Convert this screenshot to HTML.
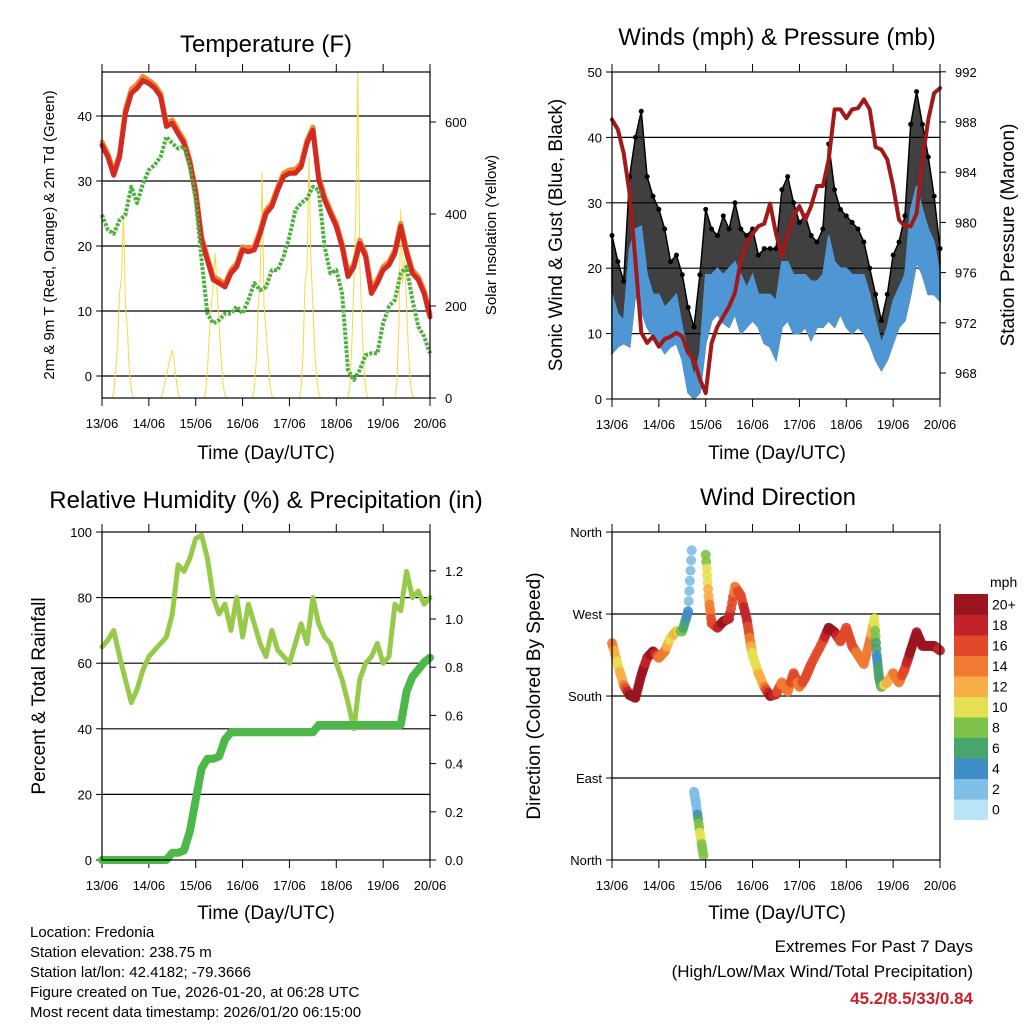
<!DOCTYPE html>
<html><head><meta charset="utf-8">
<style>
html,body{margin:0;padding:0;background:#fff;}
svg{display:block;font-family:"Liberation Sans",Arial,sans-serif;}
</style></head>
<body>
<svg id="s" width="1024" height="1024" viewBox="0 0 1024 1024"></svg>
<script>
// ---------- data (3-hourly, day offsets 0..7 from 13/06) ----------
const dayLabels = ["13/06","14/06","15/06","16/06","17/06","18/06","19/06","20/06"];
const temp2m = [35.5,33.7,30.9,33.7,40.4,43.5,44.3,45.5,45,44.3,43,38.4,38.9,37.3,35.8,32.7,28.1,20.9,17.8,14.8,14.3,13.7,15.8,16.8,19.4,19.1,19.4,21.9,25,26.1,28.6,30.7,31.2,31.2,32.2,35.8,37.8,30.2,27.1,25,23,19.9,15.3,16.8,20.4,18.4,12.7,14.3,16.3,17.1,18.9,23,18.9,15.8,14.8,12.7,9.1];
const temp9m = [36,34.2,31.4,34.2,41,44.1,44.9,46.1,45.5,44.8,43.5,38.9,39.4,37.8,36.3,33.2,28.6,21.4,18.3,15.3,14.8,14.2,16.3,17.3,19.9,19.6,19.9,22.4,25.5,26.6,29.1,31.2,31.7,31.8,32.7,36.3,38.3,30.7,27.6,25.5,23.5,20.4,15.8,17.3,20.9,18.9,13.5,14.8,16.8,17.6,19.4,23.5,19.4,16.3,15.3,13.2,9.6];
const dewpt = [24.8,22.5,21.9,24,24.8,29.1,26.6,29.6,31.7,32.5,33.7,36.8,35.8,35,35.3,32.2,27.1,17.8,9.6,8.1,8.6,9.6,9.6,10.7,9.6,11.7,14.3,13.2,13.7,16.3,16.3,18.4,21.4,25.5,26.6,27.3,29.1,28.6,19.9,15.8,16.3,12.7,0.9,-0.6,0.9,3.2,3.5,3.5,8.1,10.7,11.7,15.8,16.8,11.7,7.6,6.1,3.5];
// hourly solar insolation (W/m2), hour 0 = 13/06 06 UTC
const solar = [0,0,0,0,0,0,10,60,120,230,260,402,200,150,60,20,0,0,0,0,0,0,0,0,
0,0,0,0,0,0,0,10,30,50,70,90,104,80,40,10,0,0,0,0,0,0,0,0,
0,0,0,0,0,10,60,140,200,250,315,230,160,90,30,5,0,0,0,0,0,0,0,0,
0,0,0,0,0,0,20,80,200,250,491,200,150,90,30,5,0,0,0,0,0,0,0,0,
0,0,0,0,0,0,20,100,250,280,524,300,200,100,40,10,0,0,0,0,0,0,0,0,
0,0,0,0,0,0,0,30,120,250,400,709,300,180,80,20,0,0,0,0,0,0,0,0,
0,0,0,0,0,0,0,30,150,409,250,300,200,100,30,5,0,0,0,0,0,0,0,0,0];
const windLo = [7,8,8.5,8,16,13.6,11,9.5,8.5,7,8,8.5,6,1,0,1,8.5,12,13,11.6,11,13,10,11,12,11,8.5,8,6,11,12,10,10,11,9,11,11,12,11,13,11,10,11,10,8.5,6,4.4,6,8.5,11,12,16,21,19,16,16,15];
const windHi = [16,13,12,23,26,26.4,19,16,16,14,15,16,11,7,3.4,7,19,19,20,19,20,21,19,17,19,16,16,16,15,21,21,19,19,19,18,18,19,25,21,20,20,19,19,19,16,12,8.5,11,15,17,19,29,32.6,29,26,24,19];
const gust = [25,21,18,34,40,44,34,31,29,26,21,22,19,14,11,19,29,26,25,28,26,30,26,25,26,22,23,23,23,32,34,30,27,28,25,24,26,39,32,29,28,27,26,24,20,16,12,16,22,24,28,42,47,42,37,31,23];
const pressure = [988.2,987.4,985.5,982.3,977,971.2,970.4,970.9,970.1,970.7,970.9,971.2,970.9,969.6,969.1,967.5,966.4,970.4,971.7,972.5,973.3,974.4,977,978.3,979.1,979.7,979.9,981.5,979.1,977.3,979.1,980.5,981.3,980.2,981.3,982.9,982.9,985,989,989,988.3,989,989.1,989.8,989,986,985.8,985,982.9,980.2,979.7,979.7,980.7,985,988.2,990.3,990.7];
const rh = [65,67,70,62,55,48,52,58,62,64,66,68,75,90,88,92,98,99,92,80,75,78,70,80,68,78,72,66,62,70,64,62,60,66,72,66,80,72,68,66,60,55,48,40,55,60,62,66,60,62,78,76,88,80,82,78,80];
const precip = [0,0,0,0,0,0,0,0,0,0,0,0,0.03,0.03,0.04,0.12,0.25,0.38,0.42,0.42,0.43,0.50,0.53,0.53,0.53,0.53,0.53,0.53,0.53,0.53,0.53,0.53,0.53,0.53,0.53,0.53,0.53,0.56,0.56,0.56,0.56,0.56,0.56,0.56,0.56,0.56,0.56,0.56,0.56,0.56,0.56,0.56,0.7,0.76,0.79,0.82,0.84];
const dirTime = [0,0.125,0.25,0.375,0.5,0.625,0.75,0.875,1,1.125,1.25,1.375,1.5,1.625,1.7,1.75,1.8,1.875,1.95,2,2.06,2.125,2.25,2.375,2.5,2.625,2.75,2.875,2.95,3,3.125,3.25,3.375,3.5,3.625,3.75,3.875,4,4.125,4.25,4.5,4.625,4.75,4.875,5,5.125,5.25,5.375,5.5,5.6,5.65,5.7,5.75,5.875,6,6.125,6.25,6.375,6.5,6.625,6.75,6.875,7];
const dirDeg = [238,214,192,181,178,203,222,229,222,229,244,251,251,273,340,75,60,30,5,335,290,260,255,262,265,300,290,265,240,225,205,190,180,182,195,185,205,190,200,215,240,255,250,240,255,235,225,215,240,265,225,200,190,195,205,195,210,230,250,235,235,235,230];
const dirSpd = [14,10,13,20,20,20,18,20,14,14,10,12,7,3,2,2,1,10,7,8,12,16,17,20,18,14,16,18,14,10,11,13,20,17,14,14,16,14,16,16,16,20,20,16,16,16,14,14,14,10,4,6,6,12,13,14,16,20,20,20,20,20,18];
const spdLabels = ["0","2","4","6","8","10","12","14","16","18","20+"];
const spdColors = ["#b9e3f7","#7fbee6","#3f8dc6","#49a46d","#7dc249","#e4e052","#f8ae46","#f07a31","#e04a2a","#c2232a","#9a1520"];
const leftTicks1=[0,10,20,30,40], solarTicks=[0,200,400,600];
const windTicks=[0,10,20,30,40,50], presTicks=[968,972,976,980,984,988,992];
const rhTicks=[0,20,40,60,80,100], rainTicks=[0,0.2,0.4,0.6,0.8,1.0,1.2];
const dirTicks=[0,90,180,270,360], dirNames=["North","East","South","West","North"];

// ---------- helpers ----------
const NS="http://www.w3.org/2000/svg", svg=document.getElementById('s');
function mk(tag,attrs,parent,text){const e=document.createElementNS(NS,tag);for(const k in attrs)e.setAttribute(k,attrs[k]);if(text!==undefined)e.textContent=text;(parent||svg).appendChild(e);return e;}
const DAYW=328/7;
const t3 = i => i*0.125;

function panel(name,x0,y0,y1,yl,ylTicks,ylFmt,yr,yrTicks,yrFmt){
  const g=mk('g',{});
  
  
  const x1=x0+328;
  ylTicks.forEach(v=>{const y=yl(v);if(y>y0+1&&y<y1-1){const l=mk('line',{x1:x0,x2:x1,y1:y,y2:y,stroke:'#000','stroke-width':1.2},g);}});
  ylTicks.forEach((v,i)=>{const y=yl(v);mk('line',{x1:x0-6,x2:x0,y1:y,y2:y,stroke:'#000'},g);
    const t=mk('text',{x:x0-10,y:y+5,'text-anchor':'end','font-size':13},g,ylFmt(v,i));});
  if(yr){yrTicks.forEach((v,i)=>{const y=yr(v);mk('line',{x1:x1,x2:x1+6,y1:y,y2:y,stroke:'#000'},g);
    const t=mk('text',{x:x1+15,y:y+5,'text-anchor':'start','font-size':13},g,yrFmt(v));});}
  dayLabels.forEach((lab,i)=>{const x=x0+i*DAYW;mk('line',{x1:x,x2:x,y1:y0-8,y2:y0,stroke:'#000'},g);mk('line',{x1:x,x2:x,y1:y1,y2:y1+8,stroke:'#000'},g);
    const t=mk('text',{x:x,y:y1+30,'text-anchor':'middle','font-size':13},g,lab);});
  return g;
}
function frame(g,x0,y0,y1){const r=mk('rect',{x:x0,y:y0,width:328,height:y1-y0,fill:'none',stroke:'#000','stroke-width':1.2},g);}
function line(g,name,xs,ys,color,w,dash){const d=xs.map((x,i)=>(i?'L':'M')+x.toFixed(1)+','+ys[i].toFixed(1)).join('');
  const p=mk('path',{d:d,fill:'none',stroke:color,'stroke-width':w,'stroke-linejoin':'round','stroke-linecap':dash?'butt':'round'},g);if(dash)p.setAttribute('stroke-dasharray',dash);
  return p;}
function band(g,name,xs,lo,hi,color,op){let d='M'+xs.map((x,i)=>x.toFixed(1)+','+hi[i].toFixed(1)).join('L');
  for(let i=xs.length-1;i>=0;i--)d+='L'+xs[i].toFixed(1)+','+lo[i].toFixed(1);d+='Z';
  const p=mk('path',{d:d,fill:color,'fill-opacity':op||1,stroke:color,'stroke-width':1.5},g);return p;}
function label(txt,x,y,size,rot,name,anchor,extra){const a={x:x,y:y,'font-size':size,'text-anchor':anchor||'middle'};if(rot)a.transform=`rotate(-90 ${x} ${y})`;
  if(extra)Object.assign(a,extra);const t=mk('text',a,svg,txt);return t;}

// ---------- Panel 1: Temperature ----------
{const x0=102,y0=72,y1=398;
 const yT=v=>376-6.5*v, yS=v=>398-v*0.46, X=d=>x0+d*DAYW;
 const g=panel('temperature-panel',x0,y0,y1,yT,leftTicks1,v=>String(v),yS,solarTicks,v=>String(v));
 line(g,'solar-insolation-line',solar.map((v,i)=>X(i/24)),solar.map(yS),'#f7d944',1);
 line(g,'temp-9m-line',temp9m.map((v,i)=>X(t3(i))),temp9m.map(yT),'#f08a30',5);
 line(g,'temp-2m-line',temp2m.map((v,i)=>X(t3(i))),temp2m.map(yT),'#d42a24',5);
 line(g,'dewpoint-line',dewpt.map((v,i)=>X(t3(i))),dewpt.map(yT),'#4db040',4,'3 1.5');
 frame(g,x0,y0,y1);}
label('Temperature (F)',266,52,24,0,'temperature-title');
label('2m & 9m T (Red, Orange) & 2m Td (Green)',54,235,15,1,'temperature-y-axis-title');
label('Solar Insolation (Yellow)',496,235,15,1,'solar-y-axis-title');
label('Time (Day/UTC)',266,459,19,0,'temperature-x-axis-title');

// ---------- Panel 2: Winds & Pressure ----------
{const x0=612,y0=72,y1=399;
 const yW=v=>399-6.54*v, yP=p=>373-(p-968)*12.55, X=d=>x0+d*DAYW;
 const g=panel('wind-panel',x0,y0,y1,yW,windTicks,v=>String(v),yP,presTicks,v=>String(v));
 const xs=gust.map((v,i)=>X(t3(i)));
 band(g,'gust-band',xs,windLo.map(yW),gust.map(yW),'#000',0.75);
 gust.forEach((v,i)=>{const c=mk('circle',{cx:xs[i],cy:yW(v),r:2.5,fill:'#000'},g);});
 band(g,'sonic-wind-band',xs,windLo.map(yW),windHi.map(yW),'#4e97d4',1);
 line(g,'pressure-line',pressure.map((v,i)=>X(t3(i))),pressure.map(yP),'#a11a1a',4);
 frame(g,x0,y0,y1);}
label('Winds (mph) & Pressure (mb)',777,45,24,0,'wind-title');
label('Sonic Wind & Gust (Blue, Black)',562,235,19,1,'wind-y-axis-title');
label('Station Pressure (Maroon)',1014,235,19,1,'pressure-y-axis-title');
label('Time (Day/UTC)',777,459,19,0,'wind-x-axis-title');

// ---------- Panel 3: RH & Precip ----------
{const x0=102,y0=532,y1=860;
 const yR=v=>860-3.28*v, yQ=v=>860-241*v, X=d=>x0+d*DAYW;
 const g=panel('humidity-panel',x0,y0,y1,yR,rhTicks,v=>String(v),yQ,rainTicks,v=>v.toFixed(1));
 line(g,'relative-humidity-line',rh.map((v,i)=>X(t3(i))),rh.map(yR),'#97ca4b',5);
 line(g,'precipitation-line',precip.map((v,i)=>X(t3(i))),precip.map(yQ),'#4cb847',8);
 frame(g,x0,y0,y1);}
label('Relative Humidity (%) & Precipitation (in)',266,508,24,0,'humidity-title');
label('Percent & Total Rainfall',45,696,19,1,'humidity-y-axis-title');
label('Time (Day/UTC)',266,919,19,0,'humidity-x-axis-title');

// ---------- Panel 4: Wind direction ----------
{const x0=612,y0=532,y1=860;
 const yD=v=>860-v*0.911, X=d=>x0+d*DAYW;
 const g=panel('wind-direction-panel',x0,y0,y1,yD,dirTicks,(v,i)=>dirNames[i],null,null,null);
 const col=s=>spdColors[Math.max(0,Math.min(10,Math.round(s/2)))];
 for(let i=0;i<dirTime.length;i++){
   const n=(i<dirTime.length-1 && Math.abs(dirDeg[i+1]-dirDeg[i])<180)?6:1;
   for(let k=0;k<n;k++){const f=k/n;
     const t=dirTime[i]+(i<dirTime.length-1?(dirTime[i+1]-dirTime[i])*f:0);
     const dg=dirDeg[i]+(n>1?(dirDeg[i+1]-dirDeg[i])*f:0);
     const sp=dirSpd[i]+(n>1?(dirSpd[i+1]-dirSpd[i])*f:0);
     const c=mk('circle',{cx:X(t).toFixed(1),cy:yD(dg).toFixed(1),r:5,fill:col(sp),'fill-opacity':0.9},g);
     
     }}
 frame(g,x0,y0,y1);}
label('Wind Direction',778,505,24,0,'wind-direction-title');
label('Direction (Colored By Speed)',540,696,19,1,'wind-direction-y-axis-title');
label('Time (Day/UTC)',777,919,19,0,'wind-direction-x-axis-title');

// colorbar
{const g=mk('g',{});
 const top=594,h=20.5;
 for(let i=0;i<11;i++){const y=top+(10-i)*h;
   const r=mk('rect',{x:954,y:y,width:34,height:h+0.5,fill:spdColors[i]},g);
   const t=mk('text',{x:992,y:y+h/2+5,'font-size':14},g,spdLabels[i]);}
 const t=mk('text',{x:990,y:587,'font-size':14},g,'mph');}

// footer text
['Location: Fredonia','Station elevation: 238.75 m','Station lat/lon: 42.4182; -79.3666','Figure created on Tue, 2026-01-20, at 06:28 UTC','Most recent data timestamp: 2026/01/20 06:15:00']
 .forEach((s,i)=>label(s,30,937+i*20,15,0,'station-info-line','start'));
label('Extremes For Past 7 Days',973,952,17,0,'extremes-title','end');
label('(High/Low/Max Wind/Total Precipitation)',973,977,17,0,'extremes-subtitle','end');
label('45.2/8.5/33/0.84',973,1004,17,0,'extremes-values','end',{fill:'#c8202a','font-weight':'bold'});
</script>
</body></html>
